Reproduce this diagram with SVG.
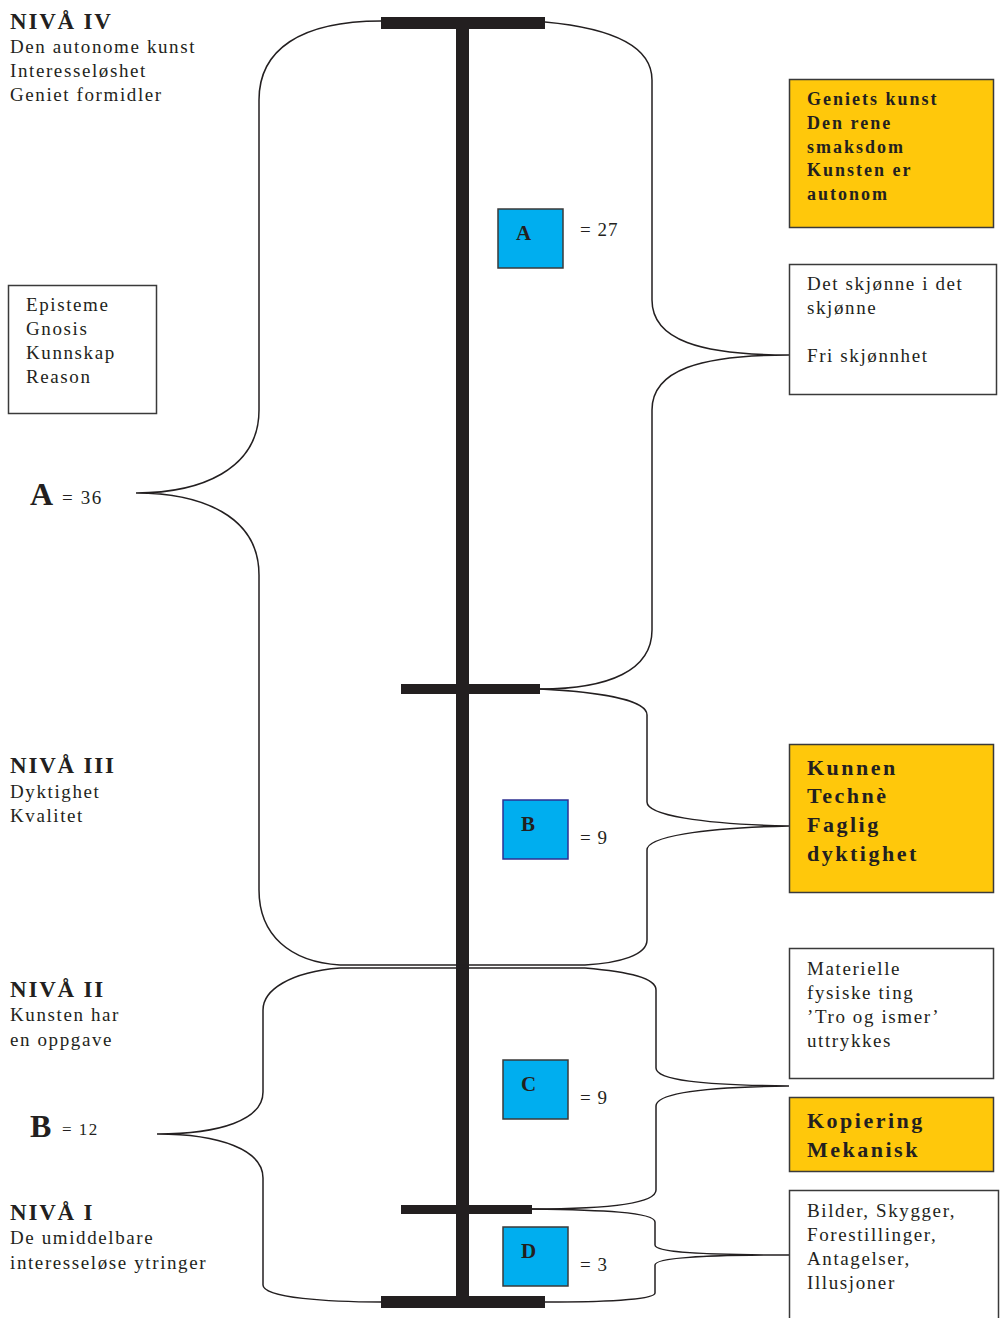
<svg xmlns="http://www.w3.org/2000/svg" width="1002" height="1318" viewBox="0 0 1002 1318">
<style>
text{font-family:"Liberation Serif","Times New Roman",serif;fill:#231F20}
.h{font-weight:bold;font-size:23px;letter-spacing:1.8px}
.t{font-size:19px;letter-spacing:1.6px}
.gb{font-weight:bold;font-size:18px;letter-spacing:2px}
.gB{font-weight:bold;font-size:22px;letter-spacing:2.5px}
.gold{fill:#FFC80B;stroke:#3A3A3A;stroke-width:1.5}
.wbox{fill:#FFFFFF;stroke:#3A3A3A;stroke-width:1.5}
.blue{fill:#00AEEF;stroke:#3A3A3A;stroke-width:1.5}
.bl{font-weight:bold;font-size:21px}
.eq{font-size:19px;letter-spacing:1px}
.brace{fill:none;stroke:#231F20;stroke-width:1.5}
.bar{fill:#231F20}
</style>
<rect width="1002" height="1318" fill="#FFFFFF"/>

<g id="scale">
<rect class="bar" x="456" y="17" width="13" height="1291"/>
<rect class="bar" x="381" y="17" width="164" height="12"/>
<rect class="bar" x="401" y="684" width="139" height="10"/>
<rect class="bar" x="401" y="1205" width="131" height="9"/>
<rect class="bar" x="381" y="1296" width="164" height="12"/>
</g>

<g id="connectors">
<path class="brace" d="M381,21 C300,21 259,50 259,100 L259,410 C259,470 200,493 136,493 C200,493 259,515 259,575 L259,890 C259,935 290,962 340,965"/>
<path class="brace" d="M545,22 C610,28 652,45 652,80 L652,300 C652,340 700,355 789,355 C700,355 652,370 652,410 L652,630 C652,670 610,689 540,689"/>
<path class="brace" d="M540,689 C600,692 647,700 647,715 L647,802 C647,815 700,824 789,826 C700,828 647,837 647,850 L647,940 C647,955 620,963 585,965"/>
<path class="brace" d="M340,965 L585,965 M340,968 L585,968"/>
<path class="brace" d="M340,968 C290,972 263,990 263,1010 L263,1092 C263,1120 220,1134 157,1134 C220,1134 263,1150 263,1178 L263,1285 C263,1298 330,1302 381,1302"/>
<path class="brace" d="M585,968 C630,972 656,978 656,990 L656,1068 C656,1080 700,1085 789,1086 C700,1087 656,1094 656,1106 L656,1190 C656,1205 600,1209 532,1209"/>
<path class="brace" d="M532,1209 C600,1210 655,1212 655,1222 L655,1245 C655,1252 700,1255 789,1255 C700,1255 655,1258 655,1265 L655,1293 C655,1300 600,1302 545,1302"/>
</g>

<g id="niva4">
<text class="h" x="10" y="29">NIVÅ IV</text>
<text class="t" x="10" y="53">Den autonome kunst</text>
<text class="t" x="10" y="77">Interesseløshet</text>
<text class="t" x="10" y="101">Geniet formidler</text>
</g>

<g id="episteme">
<rect class="wbox" x="8.5" y="285.5" width="148" height="128"/>
<text class="t" x="26" y="311">Episteme</text>
<text class="t" x="26" y="335">Gnosis</text>
<text class="t" x="26" y="359">Kunnskap</text>
<text class="t" x="26" y="383">Reason</text>
</g>

<g id="labelA">
<text x="30" y="505" font-weight="bold" font-size="32">A</text>
<text class="t" x="62" y="504">= 36</text>
</g>

<g id="niva3">
<text class="h" x="10" y="773">NIVÅ III</text>
<text class="t" x="10" y="798">Dyktighet</text>
<text class="t" x="10" y="822">Kvalitet</text>
</g>

<g id="niva2">
<text class="h" x="10" y="997">NIVÅ II</text>
<text class="t" x="10" y="1021">Kunsten har</text>
<text class="t" x="10" y="1046">en oppgave</text>
</g>

<g id="labelB">
<text x="30" y="1137" font-weight="bold" font-size="32">B</text>
<text x="62" y="1135" font-size="17" letter-spacing="1.5">= 12</text>
</g>

<g id="niva1">
<text class="h" x="10" y="1220">NIVÅ I</text>
<text class="t" x="10" y="1244">De umiddelbare</text>
<text class="t" x="10" y="1269">interesseløse ytringer</text>
</g>

<g id="boxA">
<rect class="blue" x="498" y="209" width="65" height="59"/>
<text class="bl" x="516" y="240">A</text>
<text class="eq" x="580" y="236">= 27</text>
</g>

<g id="boxB">
<rect class="blue" x="503" y="800" width="65" height="59" style="stroke:#2E3192"/>
<text class="bl" x="521" y="831">B</text>
<text class="eq" x="580" y="844">= 9</text>
</g>

<g id="boxC">
<rect class="blue" x="503" y="1060" width="65" height="59"/>
<text class="bl" x="521" y="1091">C</text>
<text class="eq" x="580" y="1104">= 9</text>
</g>

<g id="boxD">
<rect class="blue" x="503" y="1227" width="65" height="59"/>
<text class="bl" x="521" y="1258">D</text>
<text class="eq" x="580" y="1271">= 3</text>
</g>

<g id="geniets">
<rect class="gold" x="789.5" y="79.5" width="204" height="148"/>
<text class="gb" x="807" y="105">Geniets kunst</text>
<text class="gb" x="807" y="129">Den rene</text>
<text class="gb" x="807" y="153">smaksdom</text>
<text class="gb" x="807" y="176">Kunsten er</text>
<text class="gb" x="807" y="200">autonom</text>
</g>

<g id="skjonne">
<rect class="wbox" x="789.5" y="264.5" width="207" height="130"/>
<text class="t" x="807" y="290">Det skjønne i det</text>
<text class="t" x="807" y="314">skjønne</text>
<text class="t" x="807" y="362">Fri skjønnhet</text>
</g>

<g id="kunnen">
<rect class="gold" x="789.5" y="744.5" width="204" height="148"/>
<text class="gB" x="807" y="775">Kunnen</text>
<text class="gB" x="807" y="803">Technè</text>
<text class="gB" x="807" y="832">Faglig</text>
<text class="gB" x="807" y="861">dyktighet</text>
</g>

<g id="materielle">
<rect class="wbox" x="789.5" y="948.5" width="204" height="130"/>
<text class="t" x="807" y="975">Materielle</text>
<text class="t" x="807" y="999">fysiske ting</text>
<text class="t" x="807" y="1023">’Tro og ismer’</text>
<text class="t" x="807" y="1047">uttrykkes</text>
</g>

<g id="kopiering">
<rect class="gold" x="789.5" y="1097.5" width="204" height="74"/>
<text class="gB" x="807" y="1128">Kopiering</text>
<text class="gB" x="807" y="1157">Mekanisk</text>
</g>

<g id="bilder">
<rect class="wbox" x="789.5" y="1190.5" width="209" height="140"/>
<text class="t" x="807" y="1217">Bilder, Skygger,</text>
<text class="t" x="807" y="1241">Forestillinger,</text>
<text class="t" x="807" y="1265">Antagelser,</text>
<text class="t" x="807" y="1289">Illusjoner</text>
</g>
</svg>
